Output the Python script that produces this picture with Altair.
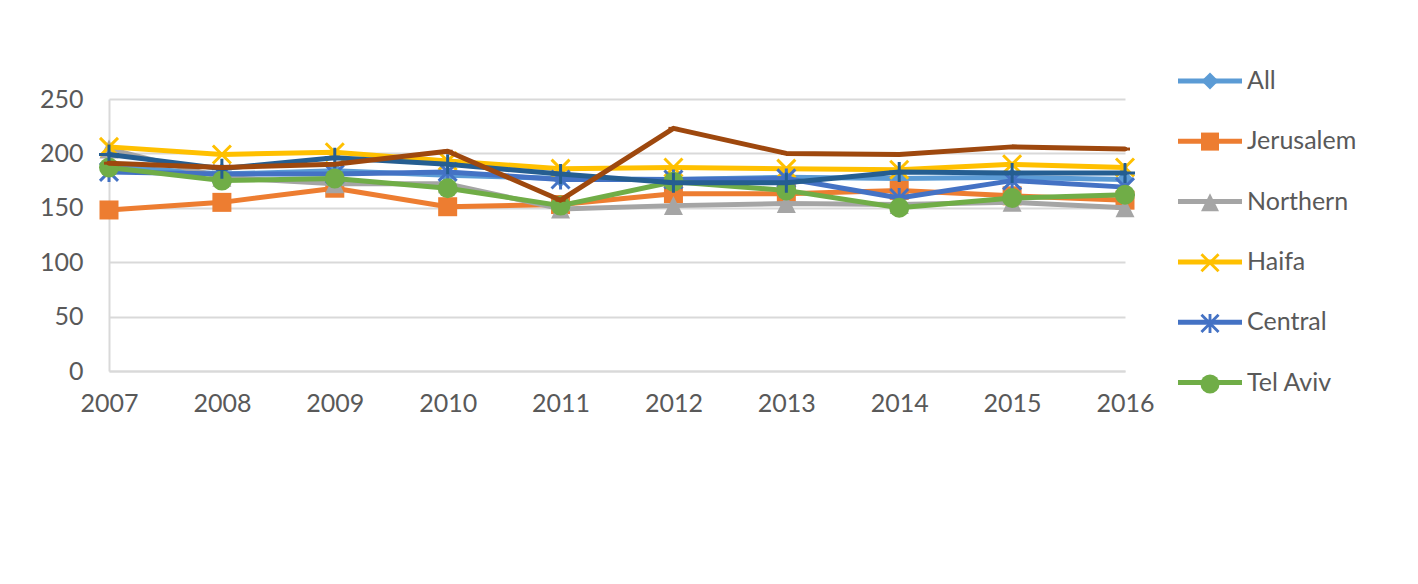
import altair as alt
import pandas as pd

# ---------------- data ----------------
years = [2007, 2008, 2009, 2010, 2011, 2012, 2013, 2014, 2015, 2016]
series_names = ["All", "Jerusalem", "Northern", "Haifa", "Central", "Tel Aviv",
                "Southern", "Judea and Samaria"]
all_values = [188, 181, 184, 180, 177, 176, 178, 177, 178, 176]
jerusalem = [148, 155, 168, 151, 153, 163, 163, 166, 161, 157]
northern = [204, 178, 172, 172, 149, 152, 154, 153, 155, 150]
haifa = [206, 199, 201, 193, 186, 187, 186, 185, 190, 187]
central = [183, 181, 181, 183, 176, 176, 177, 159, 175, 169]
tel_aviv = [187, 175, 177, 168, 152, 174, 166, 150, 159, 162]
southern = [199, 186, 196, 190, 181, 173, 173, 183, 182, 182]
judea_samaria = [191, 187, 190, 202, 157, 223, 200, 199, 206, 204]
y_ticks = [0, 50, 100, 150, 200, 250]
legend_names = series_names[:6]

colors = ["#5B9BD5", "#ED7D31", "#A5A5A5", "#FFC000", "#4472C4", "#70AD47",
          "#255E91", "#9E480E"]

# marker shapes (unit square -1..1)
SQUARE = "M-0.95,-0.95L0.95,-0.95L0.95,0.95L-0.95,0.95Z"
DIAMOND = "M0,-0.9L0.9,0L0,0.9L-0.9,0Z"
TRIANGLE = "M0,-0.95L0.95,0.95L-0.95,0.95Z"
XMARK = ("M-0.794,-1.006L1.006,0.794L0.794,1.006L-1.006,-0.794Z"
         "M-1.006,0.794L0.794,-1.006L1.006,-0.794L-0.794,1.006Z")
VBAR = "M-0.15,-1L0.15,-1L0.15,1L-0.15,1Z"
HBAR = "M-1,-0.15L1,-0.15L1,0.15L-1,0.15Z"
STAR = XMARK + VBAR
PLUS = VBAR + HBAR
DASH = "M-0.5,-0.15L0.5,-0.15L0.5,0.15L-0.5,0.15Z"
chart_shapes = [DIAMOND, SQUARE, TRIANGLE, XMARK, STAR, "circle", PLUS, DASH]

values_by_series = [all_values, jerusalem, northern, haifa, central, tel_aviv,
                    southern, judea_samaria]
rows = []
for name, vals in zip(series_names, values_by_series):
    for yr, v in zip(years, vals):
        rows.append({"year": yr, "value": v, "series": name})
df = pd.DataFrame(rows)

FONT = "Lato"
TXT = "#595959"
GRID = "#D9D9D9"

# line colours
color_scale = alt.Scale(domain=series_names, range=colors)
# marker fill / shape (same mapping, listed in reverse so the two legends stay separate)
fill_scale = alt.Scale(domain=series_names[::-1], range=colors[::-1])
shape_scale = alt.Scale(domain=series_names[::-1], range=chart_shapes[::-1])

x_enc = alt.X("year:Q",
              scale=alt.Scale(domain=[years[0], years[-1]], nice=False, zero=False),
              axis=alt.Axis(values=years, format="d", title=None, grid=False,
                            ticks=False, domain=True, domainColor=GRID, domainWidth=2,
                            labelFont=FONT, labelFontSize=25, labelColor=TXT,
                            labelPadding=20, labelFlush=False, labelOverlap=False))
y_enc = alt.Y("value:Q",
              scale=alt.Scale(domain=[0, 250], nice=False),
              axis=alt.Axis(values=y_ticks, title=None, grid=True, gridColor=GRID,
                            gridWidth=2, ticks=False, domain=True, domainColor=GRID,
                            domainWidth=2, labelFont=FONT, labelFontSize=25,
                            labelColor=TXT, labelPadding=26))

# legend with the line segments and labels
line_legend = alt.Legend(
    values=legend_names, orient="none", legendX=1066.5, legendY=-52.5, title=None,
    labelFont=FONT, labelFontSize=25, labelColor=TXT, labelOffset=2.5,
    rowPadding=12.3, symbolType="stroke", symbolSize=4096, symbolStrokeWidth=5,
    padding=0, zindex=1,
)
# legend with the markers only (empty labels), drawn on top of the lines
marker_legend = alt.Legend(
    values=legend_names, orient="none", legendX=1088.5, legendY=-30.5, title=None,
    labelFont=FONT, labelFontSize=25, labelExpr="''", labelOffset=24.5,
    rowPadding=34.6, symbolSize=361, symbolStrokeWidth=0, symbolOpacity=1,
    padding=0, zindex=2,
)

layers = []
for i, name in enumerate(series_names):
    base = alt.Chart(df).transform_filter(alt.datum.series == name)
    line = base.mark_line(strokeWidth=5, strokeJoin="round", strokeCap="round").encode(
        x=x_enc, y=y_enc,
        color=alt.Color("series:N", scale=color_scale,
                        legend=line_legend if i == 0 else None),
    )
    pts = base.mark_point(filled=True, size=400, opacity=1, strokeWidth=0).encode(
        x=x_enc, y=y_enc,
        fill=alt.Fill("series:N", scale=fill_scale,
                      legend=marker_legend if i == 0 else None),
        shape=alt.Shape("series:N", scale=shape_scale,
                        legend=marker_legend if i == 0 else None),
    )
    layers += [line, pts]

chart = alt.layer(*layers).properties(
    width=1016, height=272,
    autosize=alt.AutoSizeParams(type="none"),
    padding={"left": 101, "top": 91, "right": 280, "bottom": 195},
).configure_view(stroke=None)

chart.save("out.html", embed_options={"renderer": "svg", "actions": False})
